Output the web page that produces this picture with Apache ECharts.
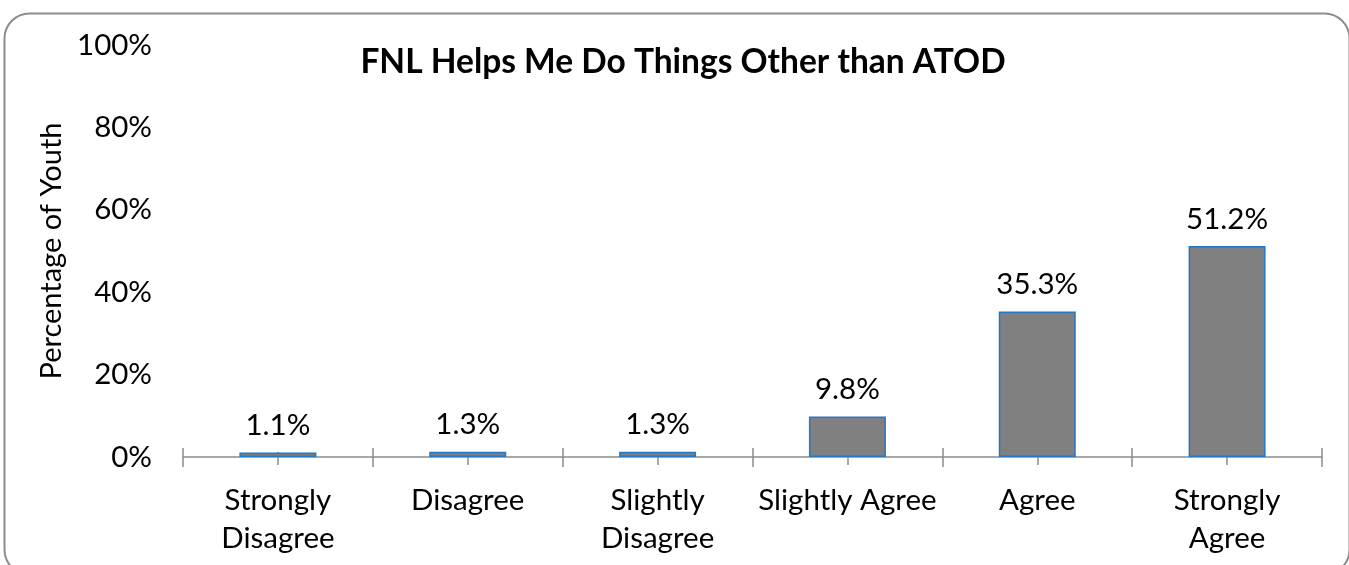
<!DOCTYPE html>
<html>
<head>
<meta charset="utf-8">
<script src="https://cdn.jsdelivr.net/npm/echarts@6/dist/echarts.min.js"></script>
<style>
html,body{margin:0;padding:0;background:#fff;}
#c{width:1349px;height:565px;}
</style>
</head>
<body>
<div id="c"></div>
<script>
var categories = ['Strongly\nDisagree', 'Disagree', 'Slightly\nDisagree', 'Slightly Agree', 'Agree', 'Strongly\nAgree'];
var values = [1.1, 1.3, 1.3, 9.8, 35.3, 51.2];
var yTicks = [0, 20, 40, 60, 80, 100];
var titleText = 'FNL Helps Me Do Things Other than ATOD';
var yAxisName = 'Percentage of Youth';

var FONT = 'Lato';
var chart = echarts.init(document.getElementById('c'), null, {renderer: 'canvas'});

function overlayAxis(align, inside, len) {
  return {
    type: 'category', data: categories, position: 'bottom',
    axisLine: {show: false},
    axisLabel: {show: false},
    axisTick: {show: true, alignWithLabel: align, inside: inside, length: len,
      lineStyle: {color: '#8c8c8c', width: 1.5}},
    splitLine: {show: false}
  };
}

chart.setOption({
  animation: false,
  backgroundColor: '#ffffff',
  title: {
    text: titleText, top: 40, left: 678, textAlign: 'center',
    textStyle: {fontFamily: FONT, fontWeight: 'bold', fontSize: 33.5, color: '#000'}
  },
  grid: {left: 183, right: 27, top: 45, bottom: 108, containLabel: false},
  xAxis: [
    {
      type: 'category', data: categories,
      axisLine: {show: true, lineStyle: {color: '#8c8c8c', width: 1.5}},
      axisTick: {show: true, alignWithLabel: false, length: 10, lineStyle: {color: '#8c8c8c', width: 1.5}},
      axisLabel: {fontFamily: FONT, fontSize: 29.5, color: '#000', margin: 24, lineHeight: 38, interval: 0},
      splitLine: {show: false}
    },
    overlayAxis(false, true, 9),
    overlayAxis(true, false, 8),
    overlayAxis(true, true, 5)
  ],
  yAxis: {
    type: 'value', min: 0, max: 100, interval: 20,
    name: yAxisName, nameLocation: 'middle', nameGap: 113, nameRotate: 90,
    nameTextStyle: {fontFamily: FONT, fontSize: 29, color: '#000'},
    axisLine: {show: false}, axisTick: {show: false},
    splitLine: {show: false},
    axisLabel: {fontFamily: FONT, fontSize: 29.5, color: '#000', margin: 31,
      formatter: function (v) { return v + '%'; }}
  },
  series: [{
    type: 'bar', data: values, xAxisIndex: 0,
    barWidth: 77,
    itemStyle: {color: '#808080', borderColor: '#1f78c8', borderWidth: 1.5},
    label: {show: true, position: 'top', distance: 12, fontFamily: FONT, fontSize: 29.5, color: '#000',
      formatter: function (p) { return p.value.toFixed(1) + '%'; }}
  }],
  graphic: [{
    type: 'rect', left: 2, top: 11, z: 100, silent: true,
    shape: {x: 0, y: 0, width: 1345, height: 561, r: 25},
    style: {fill: 'none', stroke: '#8c8c8c', lineWidth: 2}
  }]
});
</script>
</body>
</html>
